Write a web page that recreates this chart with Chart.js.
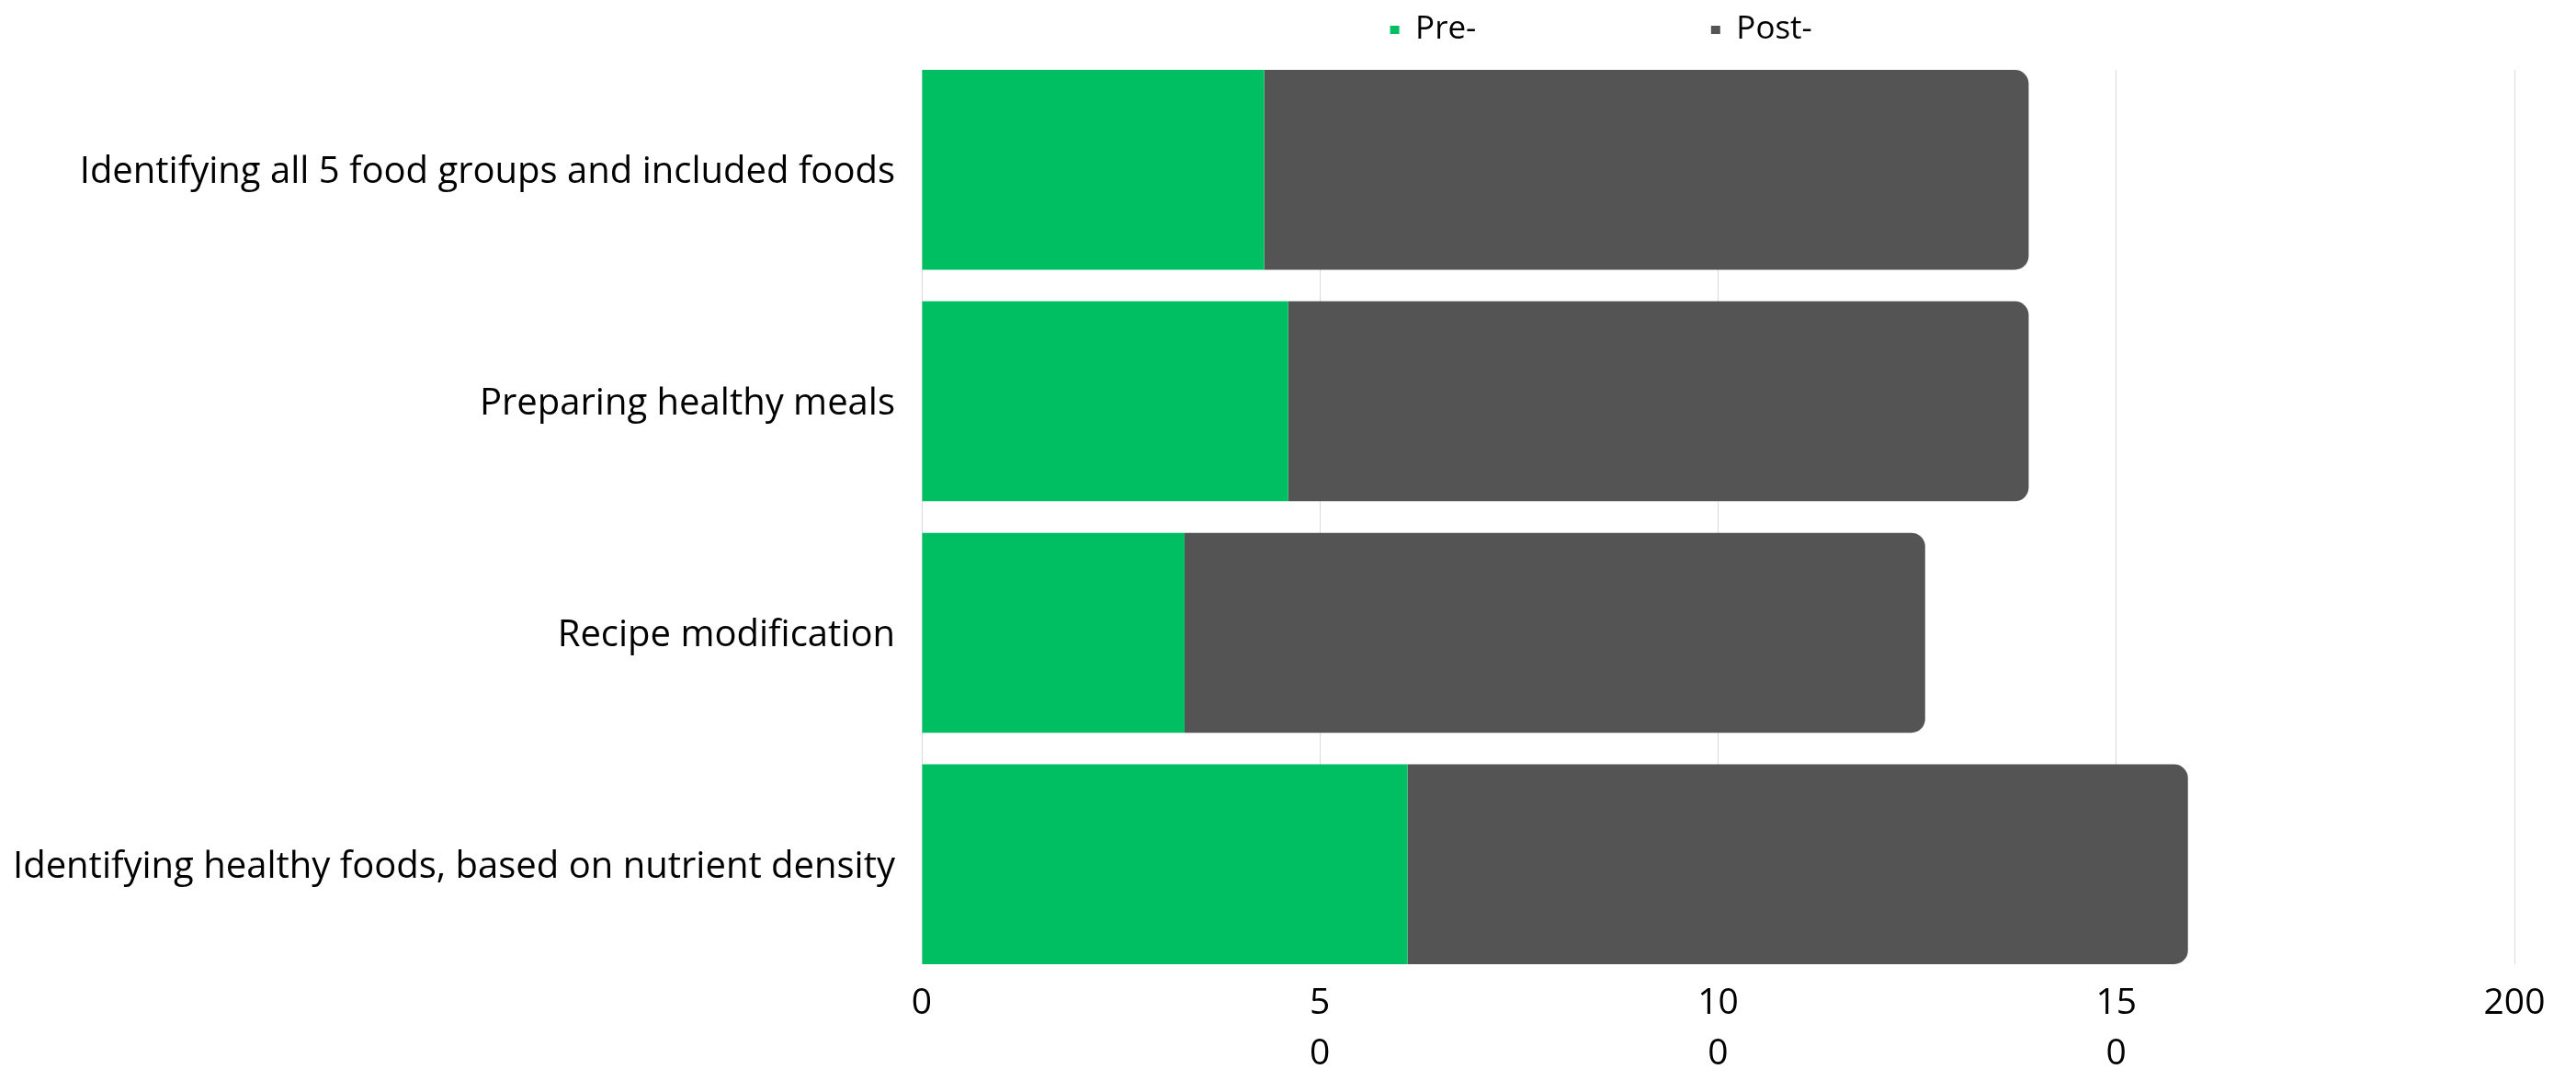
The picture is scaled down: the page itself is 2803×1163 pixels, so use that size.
<!DOCTYPE html>
<html>
<head>
<meta charset="utf-8">
<script src="https://cdn.jsdelivr.net/npm/chart.js@4/dist/chart.umd.min.js"></script>
<style>
html,body{margin:0;padding:0;background:#ffffff;}
#wrap{width:2803px;height:1163px;position:relative;}
</style>
</head>
<body>
<div id="wrap"><canvas id="c"></canvas></div>
<script>
// ---- data ----
const categories = [
  "Identifying all 5 food groups and included foods",
  "Preparing healthy meals",
  "Recipe modification",
  "Identifying healthy foods, based on nutrient density"
];
const seriesNames = ["Pre-", "Post-"];
const preValues = [43, 46, 33, 61];
const postValues = [96, 93, 93, 98];
const xTickValues = [0, 50, 100, 150, 200];
const xTickLabels = ["0", ["5", "0"], ["10", "0"], ["15", "0"], "200"];

// ---- styles ----
const seriesColors = ["#00BF63", "#545454"];
const FONT = "'Open Sans', 'Noto Sans', sans-serif";
const legendFont = { family: FONT, size: 35 };
const legendTextWidths = [312, 346];
const yPad = 0.4316;

Chart.defaults.color = "#000000";
Chart.defaults.font.family = FONT;

function padLegendText(chart, text, target) {
  const ctx = chart.ctx;
  ctx.save();
  ctx.font = legendFont.size + "px " + legendFont.family;
  let s = text;
  while (ctx.measureText(s + "\u00A0").width <= target) s += "\u00A0";
  ctx.restore();
  return s;
}

const ctx = document.getElementById("c").getContext("2d");
new Chart(ctx, {
  type: "bar",
  data: {
    datasets: [
      {
        label: seriesNames[0],
        data: preValues.map((v, i) => ({ x: v, y: i })),
        backgroundColor: seriesColors[0],
        borderWidth: 0,
        borderRadius: 0
      },
      {
        label: seriesNames[1],
        data: postValues.map((v, i) => ({ x: v, y: i })),
        backgroundColor: seriesColors[1],
        borderWidth: 0,
        borderRadius: 15,
        borderSkipped: "start"
      }
    ]
  },
  options: {
    indexAxis: "y",
    responsive: true,
    maintainAspectRatio: false,
    animation: false,
    categoryPercentage: 1,
    barPercentage: 0.8632,
    layout: { padding: { top: 5, right: 67, bottom: 0, left: 0 } },
    plugins: {
      tooltip: { enabled: false },
      title: {
        display: true,
        text: "",
        weight: 500,
        padding: 0,
        font: { size: 16, lineHeight: 1 }
      },
      legend: {
        display: true,
        position: "top",
        align: "center",
        fullSize: false,
        labels: {
          font: legendFont,
          color: "#000000",
          boxWidth: 10,
          boxHeight: 9,
          padding: 10,
          generateLabels(chart) {
            const items = Chart.defaults.plugins.legend.labels.generateLabels(chart);
            items.forEach((it, i) => {
              it.text = padLegendText(chart, seriesNames[i], legendTextWidths[i]);
              it.lineWidth = 0;
            });
            return items;
          }
        }
      }
    },
    scales: {
      x: {
        type: "linear",
        position: "bottom",
        stacked: true,
        min: 0,
        max: 200,
        offset: false,
        afterBuildTicks(axis) {
          axis.ticks = xTickValues.map(v => ({ value: v }));
        },
        afterFit(scale) { scale.height = 114; },
        grid: {
          color: "#d9d9d9",
          lineWidth: 1,
          drawTicks: false
        },
        border: { display: false },
        ticks: {
          padding: 15,
          maxRotation: 0,
          autoSkip: false,
          font: { family: FONT, size: 39, lineHeight: 55 / 39 },
          color: "#000000",
          callback: (value, index) => xTickLabels[index]
        }
      },
      y: {
        type: "linear",
        stacked: true,
        reverse: true,
        offset: false,
        bounds: "data",
        grace: 0,
        min: -yPad,
        max: categories.length - 1 + yPad,
        afterBuildTicks(axis) {
          axis.ticks = categories.map((_, i) => ({ value: i }));
        },
        afterFit(scale) { scale.width = 1003; },
        grid: { display: false, drawTicks: false, offset: false },
        border: { display: false },
        ticks: {
          padding: 29,
          labelOffset: 3,
          autoSkip: false,
          font: { family: FONT, size: 40 },
          color: "#000000",
          callback: (value) => categories[value]
        }
      }
    }
  }
});
</script>
</body>
</html>
